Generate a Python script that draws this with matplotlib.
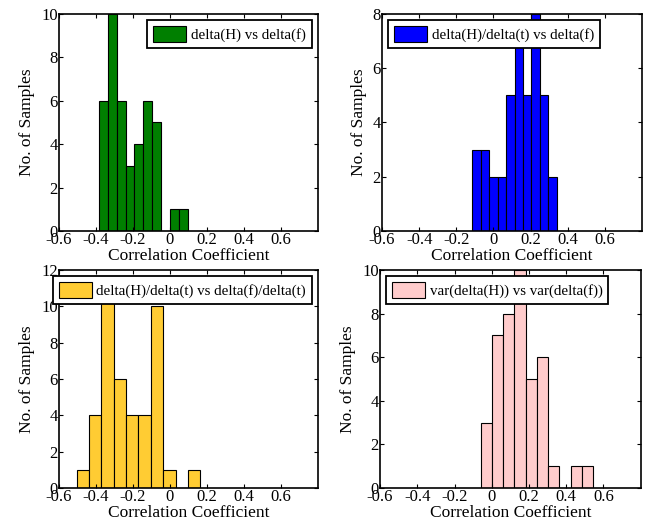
import numpy as np
import matplotlib
matplotlib.use("Agg")
from matplotlib import pyplot as plt

plt.rcParams['font.family'] = ['Liberation Serif', 'DejaVu Serif']
plt.rcParams['font.size'] = 12

# histogram data: 10 bins between min and max of each correlation set
labels = ['delta(H) vs delta(f)',
          'delta(H)/delta(t) vs delta(f)',
          'delta(H)/delta(t) vs delta(f)/delta(t)',
          'var(delta(H)) vs var(delta(f))']
bin_lo = [-0.384, -0.114, -0.504, -0.059]
bin_hi = [0.097, 0.341, 0.164, 0.544]
counts = [[6, 10, 6, 3, 4, 6, 5, 0, 1, 1],
          [3, 3, 2, 2, 5, 7, 5, 8, 5, 2],
          [1, 4, 11, 6, 4, 4, 10, 1, 0, 1],
          [3, 7, 8, 10, 5, 6, 1, 0, 1, 1]]
colors = ['#007f00', '#0000ff', '#ffcc33', '#ffcccc']
ylims = [10, 8, 12, 10]
legend_loc = ['upper right', 'upper left', 'upper right', 'upper left']

positions = [[0.0894, 0.5658, 0.392, 0.408],
             [0.5788, 0.5658, 0.394, 0.408],
             [0.0894, 0.0827, 0.392, 0.410],
             [0.5758, 0.0827, 0.395, 0.410]]

fig = plt.figure(figsize=(6.6, 5.32), dpi=100)

for i in range(4):
    ax = fig.add_axes(positions[i])
    edges = np.linspace(bin_lo[i], bin_hi[i], len(counts[i]) + 1)
    ax.bar(edges[:-1], counts[i], width=np.diff(edges), align='edge',
           color=colors[i], edgecolor='black', linewidth=0.8, label=labels[i])
    ax.set_xlim(-0.6, 0.8)
    ax.set_ylim(0, ylims[i])
    ax.set_xticks(np.arange(-0.6, 0.61, 0.2))
    ax.set_xticklabels(['-0.6', '-0.4', '-0.2', '0', '0.2', '0.4', '0.6'])
    ax.set_yticks(np.arange(0, ylims[i] + 1, 2))
    ax.tick_params(direction='in', top=True, right=True, length=3,
                   width=0.8, pad=1, labelsize=12)
    for s in ax.spines.values():
        s.set_linewidth(1.2)
    ax.set_xlabel('Correlation Coefficient', labelpad=0, fontsize=12.5)
    ax.set_ylabel('No. of Samples', labelpad=4, fontsize=12.5)
    leg = ax.legend(loc=legend_loc[i], fancybox=False, framealpha=1,
                    edgecolor='black', handlelength=2.2, handleheight=1.25,
                    borderpad=0.4, handletextpad=0.3, borderaxespad=0.4,
                    fontsize=10.8)
    leg.get_frame().set_linewidth(1.3)

fig.savefig('out.png', dpi=100)
